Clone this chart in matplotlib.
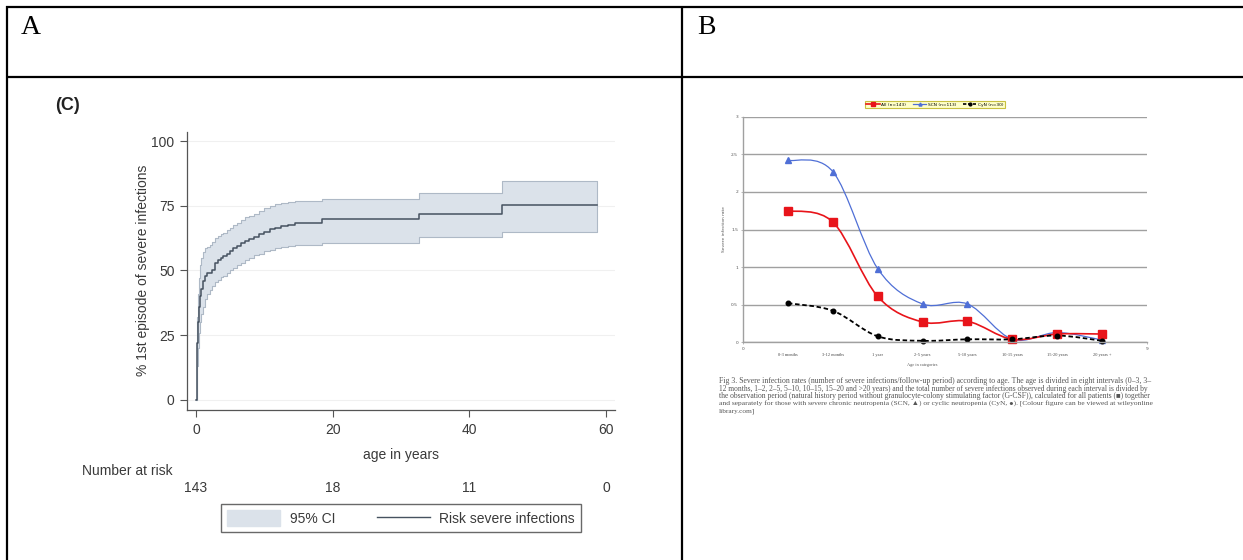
import matplotlib
matplotlib.use("Agg")
import matplotlib.pyplot as plt
from matplotlib.lines import Line2D
from matplotlib.patches import Patch, PathPatch
from matplotlib.path import Path
from matplotlib.transforms import blended_transform_factory

W, H = 1243, 560

# panel (C): cumulative risk of a first severe infection
age = [0, 0.1, 0.2, 0.3, 0.45, 0.6, 0.8, 1.0, 1.3, 1.6, 2.0, 2.4, 2.8, 3.2, 3.6,
       4.0, 4.5, 5.0, 5.5, 6.0, 6.6, 7.2, 7.8, 8.5, 9.2, 10.0, 10.8, 11.6, 12.5,
       13.5, 14.5, 18.5, 32.7, 44.7, 58.7]
risk = [0, 12, 22, 30, 36, 40, 43, 46, 48, 49, 49, 50, 53, 54, 55,
        55.5, 56.5, 57.5, 58.5, 59.5, 60.5, 61.5, 62, 63, 64, 65, 66, 66.5, 67,
        67.5, 68.2, 70, 72, 75.3, 75.3]
ci_low = [0, 6, 13, 20, 26, 30, 33, 36, 39, 41, 42.5, 44, 45.5, 46.5, 47.5,
          48, 49, 50, 51, 52, 53, 54, 55, 56, 56.5, 57.5, 58, 58.5, 59,
          59.5, 59.8, 60.7, 62.8, 65, 65]
ci_high = [0, 20, 32, 41, 47, 52, 55, 57, 58.5, 59, 60, 61, 62.5, 63.5, 64,
           64.5, 65.5, 66.5, 67.5, 68.5, 69.5, 70.5, 71, 72, 73, 74, 75, 75.5, 76,
           76.5, 77, 77.5, 80, 84.5, 84.5]
risk_ages = [0, 20, 40, 60]
at_risk = [143, 18, 11, 0]

# panel B: severe infection rate by age category
categories = ["0-3 months", "3-12 months", "1 year", "2-5 years", "5-10 years",
              "10-15 years", "15-20 years", "20 years +"]
rate_all = [1.75, 1.60, 0.61, 0.27, 0.28, 0.04, 0.11, 0.11]
rate_scn = [2.42, 2.27, 0.98, 0.51, 0.51, 0.04, 0.13, 0.03]
rate_cyn = [0.52, 0.42, 0.08, 0.02, 0.04, 0.04, 0.09, 0.02]
series_labels = ["All (n=143)", "SCN (n=113)", "CyN (n=30)"]

caption = [
    "Fig 3. Severe infection rates (number of severe infections/follow-up period) according to age. The age is divided in eight intervals (0\u20133, 3\u2013",
    "12 months, 1\u20132, 2\u20135, 5\u201310, 10\u201315, 15\u201320 and >20 years) and the total number of severe infections observed during each interval is divided by",
    "the observation period (natural history period without granulocyte-colony stimulating factor (G-CSF)), calculated for all patients (\u25a0) together",
    "and separately for those with severe chronic neutropenia (SCN, \u25b2) or cyclic neutropenia (CyN, \u25cf). [Colour figure can be viewed at wileyonline",
    "library.com]",
]


def fx(px):
    return px / W


def fy(py):
    return 1 - py / H


def smooth_path(xs, ys):
    # Excel-like smoothed line: cubic bezier through every point
    pts = list(zip(xs, ys))
    n = len(pts)
    verts = [pts[0]]
    codes = [Path.MOVETO]
    for i in range(n - 1):
        p0 = pts[i - 1] if i > 0 else pts[i]
        p1 = pts[i]
        p2 = pts[i + 1]
        p3 = pts[i + 2] if i + 2 < n else pts[i + 1]
        c1 = (p1[0] + (p2[0] - p0[0]) / 6, p1[1] + (p2[1] - p0[1]) / 6)
        c2 = (p2[0] - (p3[0] - p1[0]) / 6, p2[1] - (p3[1] - p1[1]) / 6)
        verts += [c1, c2, p2]
        codes += [Path.CURVE4] * 3
    return Path(verts, codes)


fig = plt.figure(figsize=(W / 100, H / 100), dpi=100)

# table frame
lk = dict(color="black", lw=1.6, solid_capstyle="butt")
fig.add_artist(Line2D([fx(6), fx(W)], [fy(7), fy(7)], **lk))
fig.add_artist(Line2D([fx(6), fx(W)], [fy(77), fy(77)], **lk))
fig.add_artist(Line2D([fx(7), fx(7)], [fy(6), fy(H)], **lk))
fig.add_artist(Line2D([fx(682), fx(682)], [fy(6), fy(H)], **lk))
fig.text(fx(21), fy(28), "A", fontsize=20, family="Liberation Serif", va="center")
fig.text(fx(697), fy(28), "B", fontsize=20, family="Liberation Serif", va="center")

# ---------------- panel (C) ----------------
band = "#dbe2ea"
band_edge = "#aeb9c6"
km_line = "#465260"
txt = "#3a3a3a"
sans = "Liberation Sans"

fig.text(fx(67), fy(106), "(C)", fontsize=13, fontweight="bold", family=sans,
         color="#222222", ha="center", va="center")

ax = fig.add_axes([fx(187), fy(410), (615 - 187) / W, (410 - 131.7) / H])
ax.set_xlim(-1.3, 61.3)
ax.set_ylim(-3.9, 103.6)
ax.fill_between(age, ci_low, ci_high, step="post", facecolor=band,
                edgecolor=band_edge, lw=0.8)
ax.plot(age, risk, drawstyle="steps-post", color=km_line, lw=1.1)
for y in [0, 25, 50, 75, 100]:
    ax.axhline(y, color="#f0f0f0", lw=0.8, zorder=0)
ax.set_yticks([0, 25, 50, 75, 100])
ax.set_xticks([0, 20, 40, 60])
ax.tick_params(direction="out", length=5, width=0.8, color="#555555",
               labelsize=10, labelcolor=txt, pad=4)
for lab in ax.get_xticklabels() + ax.get_yticklabels():
    lab.set_family(sans)
for s in ["top", "right"]:
    ax.spines[s].set_visible(False)
for s in ["left", "bottom"]:
    ax.spines[s].set_color("#555555")
    ax.spines[s].set_linewidth(0.9)
ax.set_xlabel("age in years", fontsize=10, family=sans, color=txt, va="center")
ax.xaxis.set_label_coords(0.5, (410 - 455.5) / (410 - 131.7))
ax.set_ylabel("% 1st episode of severe infections", fontsize=10, family=sans,
              color=txt, va="center")
ax.yaxis.set_label_coords((143 - 187) / (615 - 187), 0.503)

tr = blended_transform_factory(ax.transData, fig.transFigure)
for a, n in zip(risk_ages, at_risk):
    ax.text(a, fy(488), str(n), transform=tr, ha="center", va="center",
            fontsize=10, family=sans, color=txt)
fig.text(fx(127), fy(471), "Number at risk", ha="center", va="center",
         fontsize=10, family=sans, color=txt)

handles = [Patch(facecolor=band, edgecolor=band),
           Line2D([], [], color=km_line, lw=1.0)]
leg = fig.legend(handles, ["95% CI", "Risk severe infections"], ncol=2,
                 loc="center", bbox_to_anchor=(fx(401), fy(518)), frameon=True,
                 fancybox=False, edgecolor="#444444", fontsize=10,
                 handlelength=3.8, handleheight=1.3, handletextpad=0.7,
                 columnspacing=3.0, borderpad=0.45, borderaxespad=0)
leg.get_frame().set_linewidth(1.0)
for t in leg.get_texts():
    t.set_family(sans)
    t.set_color(txt)

# ---------------- panel B ----------------
red = "#e8141a"
blue = "#4f6fd6"
grid = "#a0a0a0"
tiny = 3.2
cats_x = list(range(1, len(categories) + 1))

bx = fig.add_axes([fx(743), fy(342.3), (1147 - 743) / W, (342.3 - 116.7) / H])
bx.set_xlim(0, 9)
bx.set_ylim(0, 3)
bx.set_yticks([0, 0.5, 1, 1.5, 2, 2.5, 3])
bx.set_yticklabels(["0", "0.5", "1", "1.5", "2", "2.5", "3"])
bx.set_xticks([0, 9])
bx.grid(axis="y", color=grid, lw=1.0)
bx.set_axisbelow(True)
for s in ["top", "right"]:
    bx.spines[s].set_visible(False)
for s in ["left", "bottom"]:
    bx.spines[s].set_color(grid)
    bx.spines[s].set_linewidth(1.0)
bx.tick_params(length=1.5, width=0.5, color=grid, labelsize=tiny,
               labelcolor="#555555", pad=2)
bx.set_ylabel("Severe infection rate", fontsize=tiny, color="#555555", labelpad=4)

bx.add_patch(PathPatch(smooth_path(cats_x, rate_scn), facecolor="none",
                       edgecolor=blue, lw=0.9))
bx.add_patch(PathPatch(smooth_path(cats_x, rate_all), facecolor="none",
                       edgecolor=red, lw=1.2))
bx.add_patch(PathPatch(smooth_path(cats_x, rate_cyn), facecolor="none",
                       edgecolor="black", lw=1.3, ls=(0, (2.5, 1.5))))
bx.plot(cats_x, rate_scn, ls="none", marker="^", ms=4.2, color=blue, clip_on=False)
bx.plot(cats_x, rate_all, ls="none", marker="s", ms=5.5, color=red, clip_on=False)
bx.plot(cats_x, rate_cyn, ls="none", marker="o", ms=3.3, color="black", clip_on=False)

tb = blended_transform_factory(bx.transData, fig.transFigure)
for xc, lab in zip(cats_x, categories):
    bx.text(xc, fy(355), lab, transform=tb, ha="center", va="center",
            fontsize=tiny, color="#444444", family="Liberation Serif")
fig.text(fx(922), fy(365), "Age in categories", ha="center", va="center",
         fontsize=tiny, color="#555555", family="Liberation Serif")

lh = [Line2D([], [], color=red, lw=1.2, marker="s", ms=2.5),
      Line2D([], [], color=blue, lw=0.9, marker="^", ms=2.2),
      Line2D([], [], color="black", lw=1.2, ls=(0, (2, 1)), marker="o", ms=2)]
bleg = fig.legend(lh, series_labels, ncol=3, loc="center",
                  bbox_to_anchor=(fx(935), fy(104.5)), frameon=True,
                  fancybox=False, facecolor="#ffffc8", edgecolor="#c8c040",
                  fontsize=tiny, handlelength=3.0, handletextpad=0.4,
                  columnspacing=1.5, borderpad=0.3, borderaxespad=0)
bleg.get_frame().set_linewidth(0.8)
bleg.get_frame().set_alpha(1)

# caption: full lines are stretched to the column width (justified look)
renderer = fig.canvas.get_renderer()
cap_left, cap_right = 719, 1152
for i, line in enumerate(caption):
    t = fig.text(fx(cap_left), fy(381 + 7.6 * i), line, ha="left", va="center",
                 fontsize=4.6, color="#555555",
                 family=["Liberation Serif", "DejaVu Serif"])
    if i < len(caption) - 1:
        w = t.get_window_extent(renderer).width
        t.set_fontsize(4.6 * (cap_right - cap_left) / w)
    else:
        t.set_fontsize(5.2)

fig.savefig("out.png", dpi=100)
